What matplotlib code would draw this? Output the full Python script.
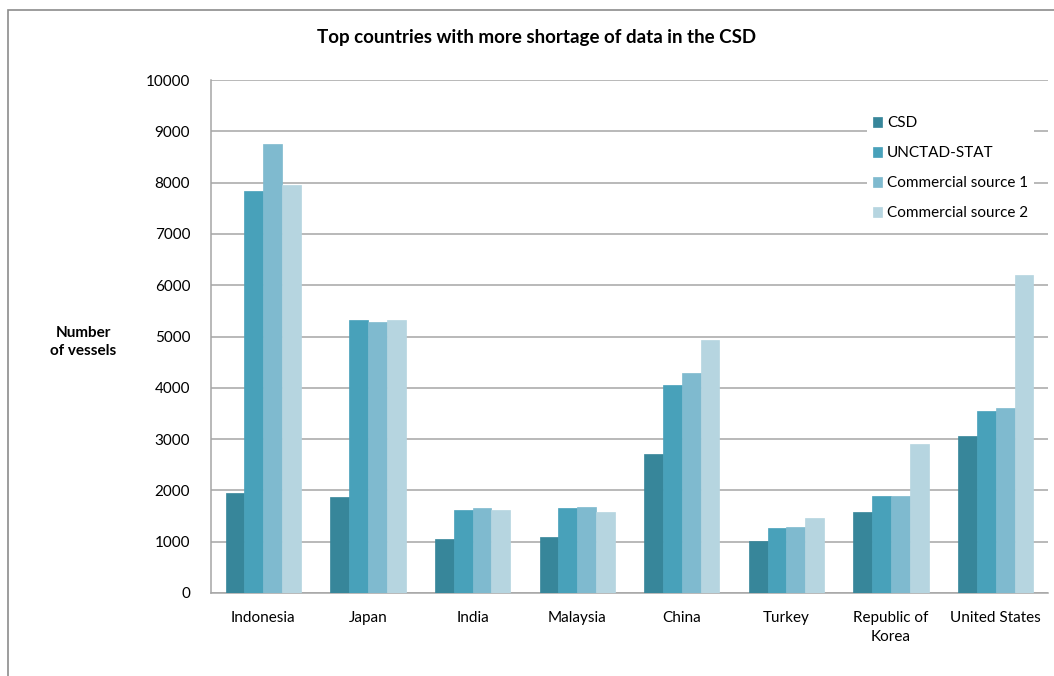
import numpy as np
import matplotlib.pyplot as plt
from matplotlib.patches import Rectangle

countries = ["Indonesia", "Japan", "India", "Malaysia", "China", "Turkey",
             "Republic of\nKorea", "United States"]
csd = [1945, 1880, 1055, 1100, 2705, 1010, 1575, 3055]
unctad_stat = [7835, 5320, 1620, 1650, 4050, 1270, 1890, 3555]
commercial_1 = [8750, 5285, 1665, 1680, 4290, 1290, 1890, 3600]
commercial_2 = [7960, 5330, 1620, 1580, 4935, 1465, 2900, 6205]

series_names = ["CSD", "UNCTAD-STAT", "Commercial source 1", "Commercial source 2"]
colors = ["#37869A", "#48A1BA", "#7FBACF", "#B6D5E0"]

plt.rcParams['font.family'] = ['Lato', 'DejaVu Sans']

fig = plt.figure(figsize=(10.54, 6.76), dpi=100)
ax = fig.add_axes([211 / 1054, 83 / 676, 837 / 1054, 513 / 676])

# outer chart frame
fig.patches.append(Rectangle((8 / 1054, -0.1), 1.2, (676 - 10) / 676 + 0.1,
                             transform=fig.transFigure, fill=False,
                             edgecolor="#8C8C8C", linewidth=1.2))

x = np.arange(len(countries))
width = 0.18
data = [csd, unctad_stat, commercial_1, commercial_2]
for i, (vals, name, col) in enumerate(zip(data, series_names, colors)):
    ax.bar(x + (i - 1.5) * width, vals, width, color=col, label=name,
           edgecolor=col, linewidth=0.5, zorder=3)

ax.set_xlim(-0.5, len(countries) - 0.5)
ax.set_ylim(0, 10000)
ax.set_yticks(np.arange(0, 10001, 1000))
ax.yaxis.grid(True, color="#A6A6A6", linewidth=1.1, zorder=0)
ax.set_axisbelow(True)
ax.set_xticks(x)
ax.set_xticklabels(countries, fontsize=11, linespacing=1.45)
ax.tick_params(axis='y', labelsize=11, length=0, pad=15)
ax.tick_params(axis='x', length=0, pad=13)

for side in ["top", "right"]:
    ax.spines[side].set_visible(False)
ax.spines["left"].set_color("#A6A6A6")
ax.spines["bottom"].set_color("#A6A6A6")
ax.spines["left"].set_linewidth(1.1)
ax.spines["bottom"].set_linewidth(1.1)

fig.text(537 / 1054, 1 - 37 / 676, "Top countries with more shortage of data in the CSD",
         ha="center", va="center", fontsize=13.5, fontweight="bold")
fig.text(83 / 1054, 1 - 342 / 676, "Number\nof vessels", ha="center", va="center",
         fontsize=11, fontweight="bold", linespacing=1.4)

leg = ax.legend(loc="upper left", bbox_to_anchor=(656 / 837, 1 - 30 / 513),
                frameon=True, fontsize=11, handlelength=0.6, handleheight=0.6,
                handletextpad=0.3, labelspacing=1.05, borderpad=0.4,
                borderaxespad=0)
leg.get_frame().set_facecolor("white")
leg.get_frame().set_edgecolor("none")
leg.get_frame().set_alpha(1)

fig.savefig("out.png", dpi=100)
